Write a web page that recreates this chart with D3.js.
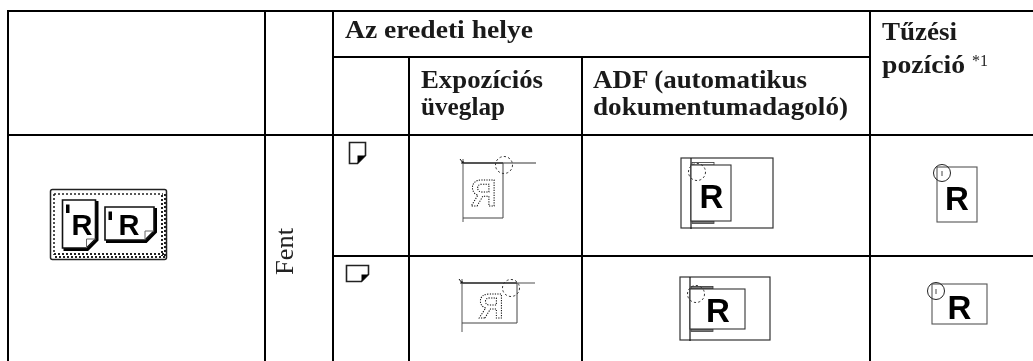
<!DOCTYPE html>
<html>
<head>
<meta charset="utf-8">
<script src="https://cdn.jsdelivr.net/npm/d3@7"></script>
<style>
  html, body { margin: 0; padding: 0; background: #fff; overflow: hidden; }
  svg { display: block; will-change: transform; }
  .head { font-family: "Liberation Serif", serif; font-weight: bold; font-size: 25px; fill: #1a1a1a; }
  .body { font-family: "Liberation Serif", serif; font-size: 25px; fill: #222; }
  .note { font-family: "Liberation Serif", serif; font-size: 16px; fill: #222; }
  .big { font-family: "Liberation Sans", Arial, sans-serif; font-weight: bold; }
</style>
</head>
<body>
<div class="holder"></div>
<script>
"use strict";

// table structure
const columnKeys = ["icon", "side", "mark", "glass", "adf", "staple", "end"];
const rowKeys = ["top", "sub", "head", "portrait", "landscape", "bottom"];

// header labels: text, column, baseline row
const headerLines = ["Az eredeti helye", "Expozíciós", "üveglap", "ADF (automatikus", "dokumentumadagoló)", "Tűzési", "pozíció"];
const headerColumns = ["mark", "glass", "glass", "adf", "adf", "staple", "staple"];
const headerWidths = [188, 122, 84, 214, 255, 75, 83];
const sideLabel = "Fent";
const noteLabel = "*1";
const sampleLetter = "R";

const w = 1033;
const h = 361;

const x = d3.scaleOrdinal().domain(columnKeys).range([8, 265, 333, 409, 582, 870, 1033]);
const y = d3.scaleOrdinal().domain(rowKeys).range([11, 57, 135, 256, 361, 361]);

const svg = d3.select(".holder").append("svg").attr("width", w).attr("height", h);

// grid lines
const hLines = [
  ["top", "icon", "end"],
  ["sub", "mark", "staple"],
  ["head", "icon", "end"],
  ["portrait", "mark", "end"]
];
const vLines = [
  ["icon", "top"],
  ["side", "top"],
  ["mark", "top"],
  ["glass", "sub"],
  ["adf", "sub"],
  ["staple", "top"]
];
const grid = svg.append("g").attr("stroke", "#000").attr("stroke-width", 2);
grid.selectAll(".h").data(hLines).enter().append("line")
  .attr("x1", (d) => x(d[1]) - 1)
  .attr("x2", (d) => x(d[2]))
  .attr("y1", (d) => y(d[0]))
  .attr("y2", (d) => y(d[0]));
grid.selectAll(".v").data(vLines).enter().append("line")
  .attr("x1", (d) => x(d[0]))
  .attr("x2", (d) => x(d[0]))
  .attr("y1", (d) => y(d[1]) - 1)
  .attr("y2", h);

// header text
const headerOffsetX = { mark: 12, glass: 12, adf: 11, staple: 12 };
const headerBaselines = [38, 88, 115, 88, 115, 40, 73];
svg.selectAll(".head").data(headerLines).enter().append("text")
  .attr("class", "head")
  .attr("x", (d, i) => x(headerColumns[i]) + headerOffsetX[headerColumns[i]])
  .attr("y", (d, i) => headerBaselines[i])
  .attr("textLength", (d, i) => headerWidths[i])
  .attr("lengthAdjust", "spacingAndGlyphs")
  .text((d) => d);

svg.append("text").attr("class", "note")
  .attr("x", 972).attr("y", 66).text(noteLabel);

svg.append("text").attr("class", "body")
  .attr("transform", "translate(293,275) rotate(-90)")
  .attr("textLength", 47).attr("lengthAdjust", "spacingAndGlyphs")
  .text(sideLabel);

const letter = (g, cx, base, size) =>
  g.append("text").attr("class", "big")
    .attr("x", cx).attr("y", base)
    .attr("text-anchor", "middle")
    .attr("font-size", size)
    .attr("fill", "#000")
    .text(sampleLetter);

const dashCircle = (g, cx, cy) =>
  g.append("circle").attr("cx", cx).attr("cy", cy).attr("r", 8.5)
    .attr("fill", "none").attr("stroke", "#333").attr("stroke-width", 1)
    .attr("stroke-dasharray", "2.2 2.2");

// main button icon
const button = svg.append("g");
button.append("rect").attr("x", 50.5).attr("y", 189.5).attr("width", 116).attr("height", 70).attr("rx", 2)
  .attr("fill", "#fff").attr("stroke", "#222").attr("stroke-width", 1.5);
const dots = (x1, y1, x2, y2, sw) =>
  button.append("line").attr("x1", x1).attr("y1", y1).attr("x2", x2).attr("y2", y2)
    .attr("stroke", "#222").attr("stroke-width", sw).attr("stroke-dasharray", "2 2");
dots(54, 194, 163, 194, 1.6);
dots(54, 194, 54, 255, 1.6);
dots(162, 195, 162, 256, 2);
dots(165, 194, 165, 257, 2);
dots(54, 254, 165, 254, 2);
dots(55, 257, 166, 257, 2);

const pageIcon = (px, py, pw, ph, fold, lx, lb) => {
  const g = button.append("g");
  g.append("path")
    .attr("d", `M${px + 1},${py + ph + 1.5} H${px + pw - fold + 1} L${px + pw + 1.5},${py + ph - fold + 1} V${py + 1}`)
    .attr("fill", "none").attr("stroke", "#000").attr("stroke-width", 3);
  g.append("path")
    .attr("d", `M${px},${py} H${px + pw} V${py + ph - fold} L${px + pw - fold},${py + ph} H${px} Z`)
    .attr("fill", "#fff").attr("stroke", "#111").attr("stroke-width", 1.6);
  g.append("path")
    .attr("d", `M${px + pw - fold},${py + ph} V${py + ph - fold} H${px + pw}`)
    .attr("fill", "none").attr("stroke", "#666").attr("stroke-width", 1);
  g.append("rect").attr("x", px + 3.5).attr("y", py + 4.5).attr("width", 3.5).attr("height", 8.5).attr("fill", "#000");
  letter(g, lx, lb, 29);
};
pageIcon(62.5, 200, 33, 48, 9, 82, 235);
pageIcon(105, 207, 49, 33, 9, 129, 235);

// small orientation marks
const markIcon = (px, py, pw, ph, fold) => {
  const g = svg.append("g");
  g.append("path")
    .attr("d", `M${px},${py} H${px + pw} V${py + ph - fold} L${px + pw - fold},${py + ph} H${px} Z`)
    .attr("fill", "#fff").attr("stroke", "#222").attr("stroke-width", 1.6);
  g.append("path")
    .attr("d", `M${px + pw},${py + ph - fold} L${px + pw - fold},${py + ph} V${py + ph - fold} Z`)
    .attr("fill", "#000");
};
markIcon(349.5, 142.5, 16, 21, 8);
markIcon(346.5, 265.5, 22, 16, 7);

// exposure glass icons
const glassIcon = (gx, gy, pw, ph, cx, cy, rx, rBase, rSize, stem) => {
  const g = svg.append("g");
  g.append("line").attr("x1", gx).attr("x2", gx + pw).attr("y1", gy).attr("y2", gy)
    .attr("stroke", "#333").attr("stroke-width", 1.3);
  g.append("line").attr("x1", gx + pw).attr("x2", gx + 73).attr("y1", gy).attr("y2", gy)
    .attr("stroke", "#777").attr("stroke-width", 1.3);
  g.append("line").attr("x1", gx).attr("x2", gx).attr("y1", gy - 4).attr("y2", gy + stem)
    .attr("stroke", "#555").attr("stroke-width", 1);
  g.append("path").attr("d", `M${gx},${gy} H${gx + pw} V${gy + ph} H${gx}`)
    .attr("fill", "none").attr("stroke", "#444").attr("stroke-width", 1);
  g.append("path").attr("d", `M${gx - 3},${gy - 4} L${gx},${gy} M${gx - 2},${gy} H${gx} V${gy - 2}`)
    .attr("fill", "none").attr("stroke", "#111").attr("stroke-width", 1);
  dashCircle(g, cx, cy);
  g.append("text").attr("class", "big")
    .attr("transform", `translate(${rx},${rBase}) scale(-1,1)`)
    .attr("text-anchor", "middle")
    .attr("font-size", rSize)
    .attr("fill", "none").attr("stroke", "#000").attr("stroke-width", 1)
    .attr("stroke-dasharray", "1.2 1.3")
    .text(sampleLetter);
};
glassIcon(463, 163, 40, 55, 504, 165, 483.5, 206, 36, 59);
glassIcon(462, 283, 55, 40, 511, 288, 491, 318, 35, 49);

// ADF icons
const adfIcon = (ax, ay, aw, ah, pw, pt, ph, cy, rx, rBase, topFill) => {
  const g = svg.append("g");
  g.append("rect").attr("x", ax).attr("y", ay).attr("width", aw).attr("height", ah)
    .attr("fill", "#fff").attr("stroke", "#333").attr("stroke-width", 1.2);
  g.append("line").attr("x1", ax + 10).attr("x2", ax + 10).attr("y1", ay).attr("y2", ay + ah + 1)
    .attr("stroke", "#111").attr("stroke-width", 1.2);
  g.append("rect").attr("x", ax + 11).attr("y", pt - 2.5).attr("width", 22).attr("height", 2.5)
    .attr("fill", topFill).attr("stroke", "#333").attr("stroke-width", 0.8);
  g.append("rect").attr("x", ax + 11).attr("y", pt + ph).attr("width", 22).attr("height", 2.5)
    .attr("fill", "#777").attr("stroke", "#444").attr("stroke-width", 0.8);
  g.append("rect").attr("x", ax + 10).attr("y", pt).attr("width", pw).attr("height", ph)
    .attr("fill", "#fff").attr("stroke", "#333").attr("stroke-width", 1.1);
  dashCircle(g, ax + 16, cy);
  letter(g, rx, rBase, 33);
};
adfIcon(681, 158, 92, 70, 40, 165, 56, 172, 711.5, 208, "#fff");
adfIcon(680, 277, 90, 63, 55, 289, 40, 294, 718, 322, "#777");

// staple position icons
const stapleIcon = (sx, sy, pw, ph, cx, cy, rx, rBase) => {
  const g = svg.append("g");
  g.append("rect").attr("x", sx).attr("y", sy).attr("width", pw).attr("height", ph)
    .attr("fill", "#fff").attr("stroke", "#555").attr("stroke-width", 1.1);
  g.append("circle").attr("cx", cx).attr("cy", cy).attr("r", 8.5)
    .attr("fill", "none").attr("stroke", "#222").attr("stroke-width", 1);
  g.append("line").attr("x1", cx).attr("x2", cx).attr("y1", cy - 2).attr("y2", cy + 3)
    .attr("stroke", "#333").attr("stroke-width", 0.9);
  letter(g, rx, rBase, 33);
};
stapleIcon(937, 167, 40, 55, 942, 173, 957, 210);
stapleIcon(932, 284, 55, 40, 936, 291, 959.5, 319);
</script>
</body>
</html>
